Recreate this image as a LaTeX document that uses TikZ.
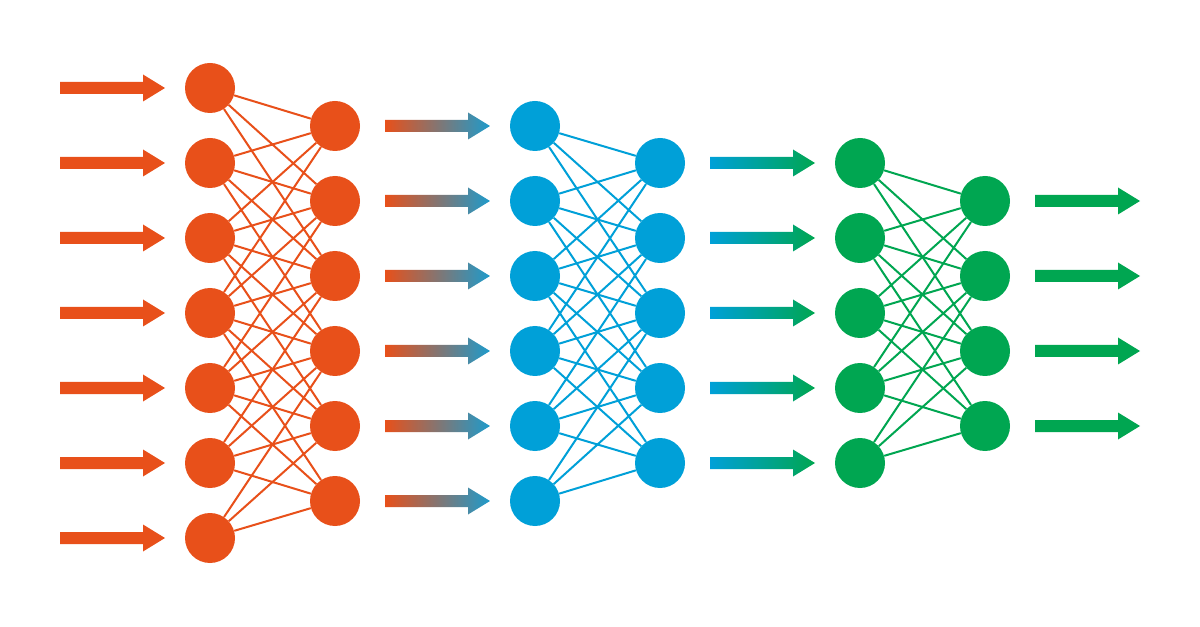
\documentclass[tikz,border=0pt]{standalone}
\definecolor{ora}{HTML}{E8501A}
\definecolor{blu}{HTML}{00A0D8}
\definecolor{grn}{HTML}{00A651}
\definecolor{blutwo}{HTML}{1E9BCB}
\newcommand\fatarrow[4]{%
  \shade[left color=#3,right color=#4] (#1,#2-6) -- ++(83,0) -- ++(0,-7.5) -- ++(22,13.5) -- ++(-22,13.5) -- ++(0,-7.5) -- ++(-83,0) -- cycle;}
% connect layer #1 (count #2) to layer #3 (count #4) with colour #5, offsets -3..2
\newcommand\linklayers[5]{%
  \foreach \i in {0,...,#2} \foreach \j in {0,...,#4} {%
    \pgfmathtruncatemacro\dd{\j-\i}%
    \ifnum\dd>-4 \ifnum\dd<3 \draw[link=#5] (#1\i) -- (#3\j);\fi\fi}}
\begin{document}
\begin{tikzpicture}[x=0.75pt,y=-0.75pt,
  neuron/.style={circle,fill=#1,minimum size=37.5pt,inner sep=0pt},
  link/.style={draw=#1,line width=1.5pt}]
\useasboundingbox (0,0) rectangle (1200,627);
\fill[white] (0,0) rectangle (1200,627);
% nodes
\foreach \i in {0,...,6} \node[neuron=ora] (oa\i) at (210,88+75*\i) {};
\foreach \i in {0,...,5} \node[neuron=ora] (ob\i) at (335,126+75*\i) {};
\foreach \i in {0,...,5} \node[neuron=blu] (ba\i) at (535,126+75*\i) {};
\foreach \i in {0,...,4} \node[neuron=blu] (bb\i) at (660,163+75*\i) {};
\foreach \i in {0,...,4} \node[neuron=grn] (ga\i) at (860,163+75*\i) {};
\foreach \i in {0,...,3} \node[neuron=grn] (gb\i) at (985,201+75*\i) {};
% links
\linklayers{oa}{6}{ob}{5}{ora}
\linklayers{ba}{5}{bb}{4}{blu}
\linklayers{ga}{4}{gb}{3}{grn}
% arrows
\foreach \i in {0,...,6} {\pgfmathsetmacro\yy{88+75*\i}\fatarrow{60}{\yy}{ora}{ora}}
\foreach \i in {0,...,5} {\pgfmathsetmacro\yy{126+75*\i}\fatarrow{385}{\yy}{ora}{blutwo}}
\foreach \i in {0,...,4} {\pgfmathsetmacro\yy{163+75*\i}\fatarrow{710}{\yy}{blu}{grn}}
\foreach \i in {0,...,3} {\pgfmathsetmacro\yy{201+75*\i}\fatarrow{1035}{\yy}{grn}{grn}}
\end{tikzpicture}
\end{document}
